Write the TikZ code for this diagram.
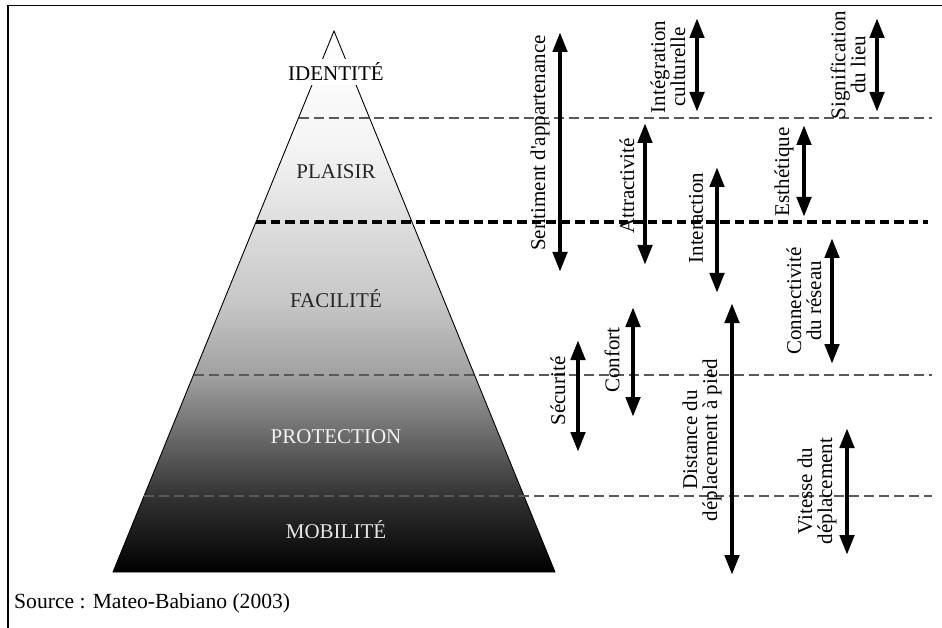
\documentclass[tikz,border=0pt]{standalone}
\usepackage{fontspec}
\setmainfont{Liberation Serif}
\usetikzlibrary{arrows.meta}
\pgfdeclareverticalshading{pyrshade}{100bp}{color(0bp)=(black); color(25bp)=(black); color(32bp)=(black!80); color(37.7bp)=(black!58); color(43.2bp)=(black!37); color(50bp)=(black!22); color(64.5bp)=(black!4); color(75bp)=(white); color(100bp)=(white)}
\begin{document}
\begin{tikzpicture}[x=1pt,y=-1pt,
  lbl/.style={font=\fontsize{21}{20}\selectfont, inner sep=0pt},
  rlbl/.style={lbl, rotate=90, align=center},
  lvl/.style={lbl, anchor=base},
  thindash/.style={draw=black!65, line width=1.2pt, dash pattern=on 10pt off 5pt},
  thickdash/.style={draw=black, line width=4.8pt, dash pattern=on 9.5pt off 5pt},
  dblarrow/.style={line width=4.5pt, {Triangle[length=20pt,width=14pt]}-{Triangle[length=20pt,width=14pt]}}]
\useasboundingbox (0,0) rectangle (942,628);
% frame
\draw[line width=1.8pt] (8,628) -- (8,5.5) -- (942,5.5);
% pyramid
\coordinate (apex) at (334,31);
\coordinate (bl) at (113,572);
\coordinate (br) at (555,572);
\shade[shading=pyrshade] (apex) -- (bl) -- (br) -- cycle;
\draw[line width=0.9pt] (apex) -- (bl) -- (br) -- cycle;
% level lines
\coordinate (l1a) at (298.5,118); \coordinate (l1b) at (932,118);
\coordinate (l2a) at (256,222);   \coordinate (l2b) at (928,222);
\coordinate (l3a) at (193.5,375); \coordinate (l3b) at (932,375);
\coordinate (l4a) at (144,496);   \coordinate (l4b) at (932,496);
\draw[thindash] (l1a) -- (l1b);
\draw[thickdash] (l2a) -- (l2b);
\draw[thindash] (l3a) -- (l3b);
\draw[thindash] (l4a) -- (l4b);
% level labels
\node[lvl, fill=white, inner ysep=4pt, inner xsep=2pt, text=black] (identite) at (336,81) {IDENTITÉ};
\node[lvl, text=black!85] (plaisir) at (336,179) {PLAISIR};
\node[lvl, text=black!85] (facilite) at (336,307) {FACILITÉ};
\node[lvl, text=black!5] (protection) at (336,443) {PROTECTION};
\node[lvl, text=black!10] (mobilite) at (336,538) {MOBILITÉ};
% arrows
\coordinate (sa1) at (560,32);  \coordinate (sa2) at (560,272);
\coordinate (ic1) at (697,18);  \coordinate (ic2) at (697,112);
\coordinate (sl1) at (877,18);  \coordinate (sl2) at (877,112);
\coordinate (at1) at (645,123); \coordinate (at2) at (645,265);
\coordinate (es1) at (804,125); \coordinate (es2) at (804,217);
\coordinate (in1) at (717,167); \coordinate (in2) at (717,293);
\coordinate (co1) at (832,238); \coordinate (co2) at (832,364);
\coordinate (se1) at (578,340); \coordinate (se2) at (578,452);
\coordinate (cf1) at (633,307); \coordinate (cf2) at (633,417);
\coordinate (di1) at (732,303); \coordinate (di2) at (732,575);
\coordinate (vi1) at (847,428); \coordinate (vi2) at (847,555);
\foreach \a/\b in {sa1/sa2, ic1/ic2, sl1/sl2, at1/at2, es1/es2, in1/in2, co1/co2, se1/se2, cf1/cf2, di1/di2, vi1/vi2}
  \draw[dblarrow] (\a) -- (\b);
% arrow labels
\node[rlbl] (sentiment) at (540,143) {Sentiment d\textquotesingle appartenance};
\node[rlbl] (integration) at (668,67) {Intégration\\culturelle};
\node[rlbl] (signification) at (848,65) {Signification\\du lieu};
\node[rlbl] (attractivite) at (627,186) {Attractivité};
\node[rlbl] (esthetique) at (784,172) {Esthétique};
\node[rlbl] (interaction) at (696,218) {Interaction};
\node[rlbl] (connectivite) at (804,301) {Connectivité\\du réseau};
\node[rlbl] (securite) at (558,391) {Sécurité};
\node[rlbl] (confort) at (612,360) {Confort};
\node[rlbl] (distance) at (702,440) {Distance du\\déplacement à pied};
\node[rlbl] (vitesse) at (817,491) {Vitesse du\\déplacement};
% source
\node[lbl, anchor=base west, font=\fontsize{21.6}{22}\selectfont] (source) at (14,608) {Source : Mateo-Babiano (2003)};
\end{tikzpicture}
\end{document}
